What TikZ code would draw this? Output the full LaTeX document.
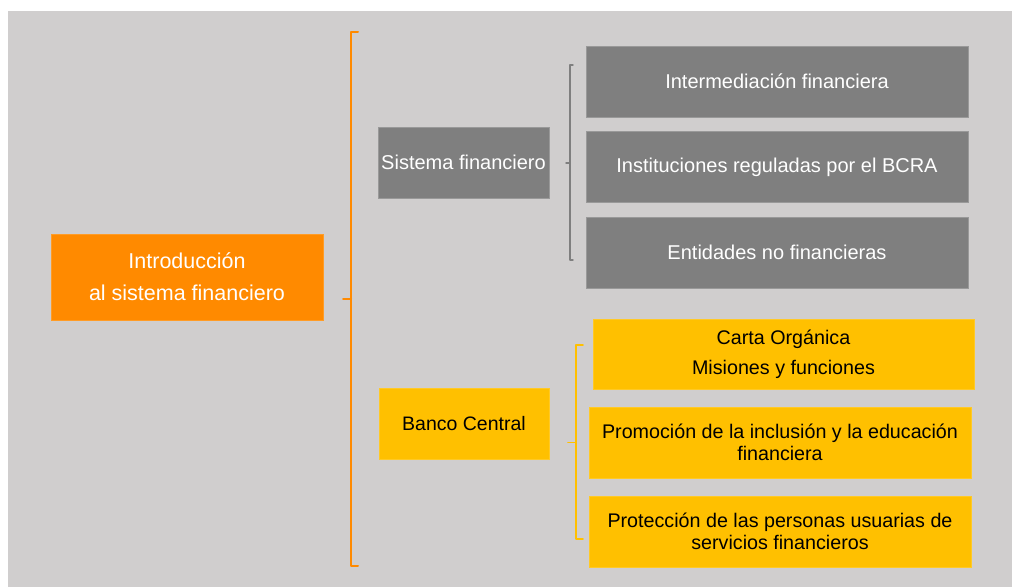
\documentclass[tikz,border=0pt]{standalone}
\usepackage{fontspec}
\setmainfont{Liberation Sans}
\definecolor{bg}{HTML}{D0CECE}
\definecolor{boxgray}{HTML}{7F7F7F}
\definecolor{orng}{HTML}{FF8A00}
\definecolor{yel}{HTML}{FFC000}
\begin{document}
\begin{tikzpicture}[x=1pt,y=-1pt,
  base/.style={inner sep=0pt, outer sep=0pt, align=center, font=\fontsize{20}{22}\selectfont},
  graybox/.style={base, fill=boxgray, draw=boxgray!80!white, line width=0.6pt, text=white},
  orangebox/.style={base, fill=orng, draw=orng!85!white, line width=0.6pt, text=white},
  yelbox/.style={base, fill=yel, draw=yel!85!white, line width=0.6pt, text=black},
  brk/.style={line cap=round, line join=round}]
\useasboundingbox (0,0) rectangle (1012,587);
\fill[bg] (8,11) rectangle (1012,587);

% main
\node[orangebox, minimum width=272pt, minimum height=86pt,
  font=\fontsize{21.5}{32}\selectfont] (main) at (187,277) {Introducción\\al sistema financiero};

% level 2
\node[graybox, minimum width=171pt, minimum height=71pt] (sis) at (463.5,162.5) {Sistema financiero};
\node[yelbox, minimum width=170pt, minimum height=71pt, font=\fontsize{19.5}{22}\selectfont] (bc) at (464,423.5) {Banco Central};

% gray children
\node[graybox, minimum width=382pt, minimum height=71pt] (g1) at (777,81.5) {Intermediación financiera};
\node[graybox, minimum width=382pt, minimum height=71pt] (g2) at (777,167) {Instituciones reguladas por el BCRA};
\node[graybox, minimum width=382pt, minimum height=71pt] (g3) at (777,252.5) {Entidades no financieras};

% yellow children
\node[yelbox, minimum width=381pt, minimum height=70pt,
  font=\fontsize{19.7}{30}\selectfont] (y1) at (783.5,354) {Carta Orgánica\\Misiones y funciones};
\node[yelbox, minimum width=382pt, minimum height=71pt, font=\fontsize{19.7}{22}\selectfont] (y2) at (780,442.5) {Promoción de la inclusión y la educación\\financiera};
\node[yelbox, minimum width=382pt, minimum height=71pt, font=\fontsize{19.7}{22}\selectfont] (y3) at (780,531.5) {Protección de las personas usuarias de\\servicios financieros};

% bracket coordinates
\coordinate (oT) at (358,32);
\coordinate (oB) at (358,566);
\coordinate (oM) at (343,298.5);
\coordinate (gT) at (573,65);
\coordinate (gB) at (573,260);
\coordinate (gM) at (566,163);
\coordinate (yT) at (583,345);
\coordinate (yB) at (583,539);
\coordinate (yM) at (568,442.5);

% orange bracket
\draw[brk, orng, line width=2pt] (oT) -- (oT -| 351,0) -- (oB -| 351,0) -- (oB);
\draw[brk, orng, line width=2pt] (oM) -- (oM -| 351,0);
% gray bracket
\draw[brk, boxgray, line width=1.4pt] (gT) -- (gT -| 570,0) -- (gB -| 570,0) -- (gB);
\draw[brk, boxgray, line width=1.4pt] (gM) -- (gM -| 570,0);
% yellow bracket
\draw[brk, yel, line width=1.6pt] (yT) -- (yT -| 576,0) -- (yB -| 576,0) -- (yB);
\draw[brk, yel, line width=1.6pt] (yM) -- (yM -| 576,0);
\end{tikzpicture}
\end{document}
